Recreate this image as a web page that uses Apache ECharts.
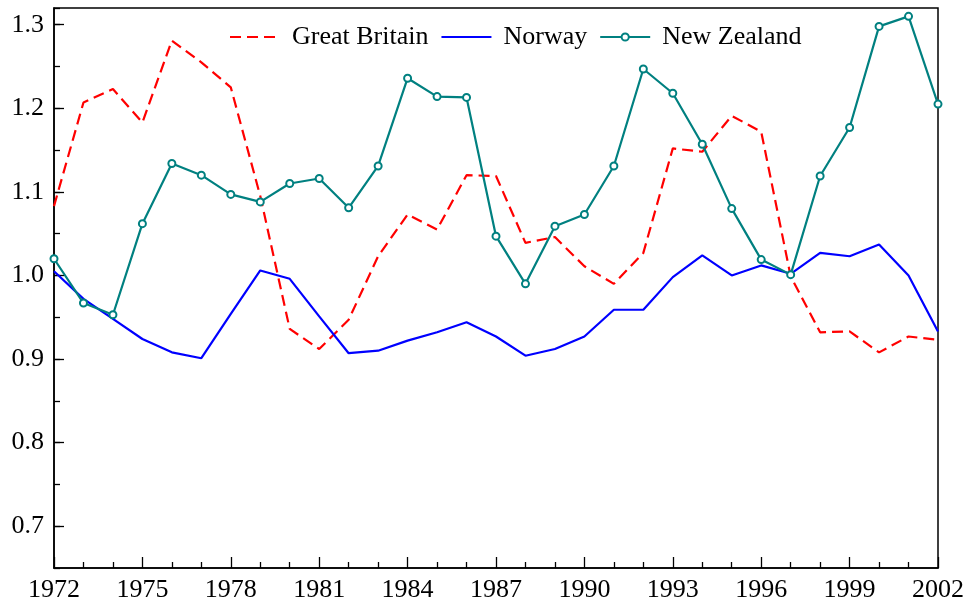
<!DOCTYPE html>
<html>
<head>
<meta charset="utf-8">
<script src="https://cdn.jsdelivr.net/npm/echarts@6/dist/echarts.min.js"></script>
<style>
  html, body { margin: 0; padding: 0; background: #fff; }
  #chart { width: 969px; height: 603px; }
</style>
</head>
<body>
<div id="chart"></div>
<script>
// years on the x axis
const years = [];
for (let y = 1972; y <= 2002; y++) years.push(y);

const greatBritain = [1.083, 1.207, 1.223, 1.183, 1.281, 1.255, 1.225, 1.095, 0.936, 0.912,
  0.947, 1.023, 1.073, 1.055, 1.120, 1.119, 1.039, 1.046, 1.011, 0.990,
  1.027, 1.152, 1.148, 1.191, 1.172, 0.999, 0.932, 0.933, 0.908, 0.927, 0.923];

const norway = [1.005, 0.972, 0.948, 0.924, 0.908, 0.901, 0.954, 1.006, 0.996, 0.951,
  0.907, 0.910, 0.922, 0.932, 0.944, 0.927, 0.904, 0.912, 0.927, 0.959,
  0.959, 0.998, 1.024, 1.000, 1.012, 1.002, 1.027, 1.023, 1.037, 1.000, 0.933];

const newZealand = [1.020, 0.967, 0.953, 1.062, 1.134, 1.120, 1.097, 1.088, 1.110, 1.116,
  1.081, 1.131, 1.236, 1.214, 1.213, 1.047, 0.990, 1.059, 1.073, 1.131,
  1.247, 1.218, 1.157, 1.080, 1.019, 1.001, 1.119, 1.177, 1.298, 1.310, 1.205];

const pairs = arr => arr.map((v, i) => [years[i], v]);

const FONT = 'Liberation Serif';

const chart = echarts.init(document.getElementById('chart'));

const option = {
  animation: false,
  backgroundColor: '#fff',
  textStyle: { fontFamily: FONT },
  grid: {
    left: 54, right: 31, top: 8, bottom: 35,
    show: true, borderColor: '#000', borderWidth: 1.5
  },
  legend: {
    top: 19, left: 224,
    itemWidth: 50, itemHeight: 9, itemGap: 12,
    textStyle: { fontFamily: FONT, fontSize: 26, color: '#000', padding: [0, 0, 0, 7] },
    data: [
      { name: 'Great Britain', itemStyle: { opacity: 0 } },
      { name: 'Norway', itemStyle: { opacity: 0 } },
      { name: 'New Zealand' }
    ]
  },
  xAxis: {
    type: 'value',
    min: 1972, max: 2002, interval: 3,
    axisLine: { lineStyle: { color: '#000', width: 1.5 } },
    axisTick: { inside: true, length: 11, lineStyle: { color: '#000', width: 1.3 } },
    minorTick: { show: true, splitNumber: 3, length: 6, lineStyle: { color: '#000', width: 1.3 } },
    splitLine: { show: false },
    axisLabel: { fontFamily: FONT, fontSize: 26, color: '#000', margin: 9, formatter: v => String(v) }
  },
  yAxis: [
    {
      type: 'value',
      min: 0.65, max: 1.32,
      position: 'left',
      axisLine: { show: true, lineStyle: { color: '#000', width: 1.5 } },
      axisTick: { show: true, inside: true, length: 10, lineStyle: { color: '#000', width: 1.3 } },
      splitLine: { show: false },
      axisLabel: {
        fontFamily: FONT, fontSize: 26, color: '#000', margin: 10,
        showMinLabel: false, showMaxLabel: false,
        formatter: v => v.toFixed(1)
      }
    },
    {
      // only for the short ticks at every 0.05
      type: 'value',
      min: 0.65, max: 1.32, interval: 0.05,
      position: 'left',
      axisLine: { show: false },
      axisTick: { show: true, inside: true, length: 6, lineStyle: { color: '#000', width: 1.3 } },
      splitLine: { show: false },
      axisLabel: { show: false }
    }
  ],
  series: [
    {
      name: 'Great Britain',
      type: 'line',
      data: pairs(greatBritain),
      symbol: 'none',
      lineStyle: { color: '#ff0000', width: 2.2, type: [11, 6] },
      itemStyle: { color: '#ff0000' }
    },
    {
      name: 'Norway',
      type: 'line',
      data: pairs(norway),
      symbol: 'none',
      lineStyle: { color: '#0000ff', width: 2.2 },
      itemStyle: { color: '#0000ff' }
    },
    {
      name: 'New Zealand',
      type: 'line',
      data: pairs(newZealand),
      symbol: 'emptyCircle',
      symbolSize: 7,
      lineStyle: { color: '#008080', width: 2.2 },
      itemStyle: { color: '#008080', borderWidth: 1.5 }
    }
  ]
};

chart.setOption(option);
</script>
</body>
</html>
